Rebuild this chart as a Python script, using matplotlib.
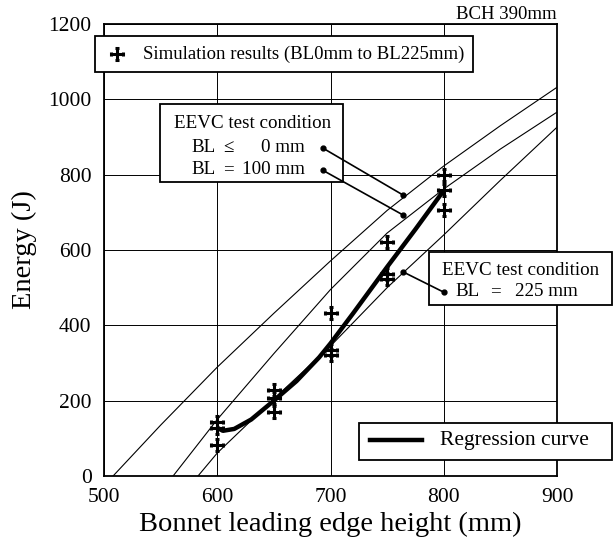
import matplotlib
matplotlib.use('Agg')
import matplotlib.pyplot as plt
from matplotlib.path import Path
from matplotlib.patches import Rectangle

plt.rcParams['font.family'] = ['Liberation Serif', 'DejaVu Serif']

# EEVC test condition curves (bonnet leading edge height mm, energy J)
bl0_x = [508, 550, 600, 650, 700, 750, 800, 850, 900]
bl0_y = [0, 135, 289, 432, 571, 705, 823, 930, 1032]
bl100_x = [561, 600, 650, 700, 750, 800, 850, 900]
bl100_y = [0, 150, 325, 495, 645, 762, 868, 966]
bl225_x = [583, 600, 650, 700, 750, 800, 850, 900]
bl225_y = [0, 61, 205, 345, 500, 640, 785, 926]

# regression curve
reg_x = [600, 605, 615, 630, 650, 670, 690, 700, 720, 750, 775, 800]
reg_y = [128, 120, 125, 150, 200, 252, 315, 352, 432, 555, 655, 758]

# simulation results
sim_x = [600, 600, 600, 650, 650, 650, 700, 700, 700, 750, 750, 750, 800, 800, 800]
sim_y = [144, 128, 82, 228, 206, 171, 432, 335, 322, 622, 535, 522, 798, 758, 706]

x_ticks = [500, 600, 700, 800, 900]
y_ticks = [0, 200, 400, 600, 800, 1000, 1200]

# croix a empattements pour les points de simulation
cross = Path([(-1, 0), (1, 0), (0, -1), (0, 1),
              (-1, -0.4), (-1, 0.4), (1, -0.4), (1, 0.4),
              (-0.4, 1), (0.4, 1), (-0.4, -1), (0.4, -1)],
             [Path.MOVETO, Path.LINETO] * 6)

W, H = 613, 543
fig = plt.figure(figsize=(W / 100, H / 100), dpi=100)
ax = fig.add_axes([104 / W, 1 - 476 / H, 453 / W, 452 / H])


def px_rect(x0, y0, x1, y1):
    # rectangle en pixels de la figure (origine en haut a gauche)
    r = Rectangle((x0 / W, 1 - y1 / H), (x1 - x0) / W, (y1 - y0) / H,
                  transform=fig.transFigure, facecolor='white',
                  edgecolor='black', linewidth=1.3, zorder=5, clip_on=False)
    ax.add_patch(r)


def px_text(x, y, s, **kw):
    ax.text(x / W, 1 - y / H, s, transform=fig.transFigure, zorder=6,
            clip_on=False, **kw)


ax.plot(bl0_x, bl0_y, color='black', lw=0.8)
ax.plot(bl100_x, bl100_y, color='black', lw=0.8)
ax.plot(bl225_x, bl225_y, color='black', lw=0.8)
ax.plot(reg_x, reg_y, color='black', lw=3.2, solid_capstyle='butt')
ax.plot(sim_x, sim_y, ls='none', marker=cross, ms=8, mew=2.2,
        color='black')

ax.set_xlim(500, 900)
ax.set_ylim(0, 1200)
ax.set_xticks(x_ticks)
ax.set_yticks(y_ticks)
ax.tick_params(length=0, labelsize=15.5, pad=9)
ax.grid(True, color='black', lw=0.7)
ax.set_axisbelow(True)
for s in ax.spines.values():
    s.set_linewidth(1.3)
ax.set_xlabel('Bonnet leading edge height (mm)', fontsize=20.5, labelpad=3)
ax.set_ylabel('Energy (J)', fontsize=20.5, labelpad=8)

ax.text(1.0, 1.003, 'BCH 390mm', transform=ax.transAxes, ha='right',
        va='bottom', fontsize=13.5)

# boite des resultats de simulation
px_rect(95, 36, 473, 72)
ax.plot([117 / W], [1 - 54 / H], marker=cross, ms=8, mew=2.2,
        color='black', ls='none', transform=fig.transFigure, zorder=6,
        clip_on=False)
px_text(143, 54, 'Simulation results (BL0mm to BL225mm)', fontsize=13.5,
        va='center')

# boite EEVC BL 0 / 100
px_rect(160, 104, 343, 182)
px_text(253, 123, 'EEVC test condition', fontsize=13.7, ha='center',
        va='center')
px_text(191, 147, 'BL', fontsize=13.7, va='center')
px_text(191, 170, 'BL', fontsize=13.7, va='center')
px_text(228, 147, '\u2264', fontsize=13.7, va='center', ha='center')
px_text(228, 170, '=', fontsize=13.7, va='center', ha='center')
px_text(305, 147, '0 mm', fontsize=13.7, va='center', ha='right')
px_text(305, 170, '100 mm', fontsize=13.7, va='center', ha='right')
for (x0, y0), (x1, y1) in [((693, 871), (764, 746)),
                           ((693, 812), (764, 693))]:
    ax.plot([x0, x1], [y0, y1], color='black', lw=1.2, marker='o', ms=3.5,
            clip_on=False, zorder=7)

# boite EEVC BL 225
px_rect(429, 252, 612, 305)
px_text(521, 270, 'EEVC test condition', fontsize=13.7, ha='center',
        va='center')
px_text(455, 292, 'BL', fontsize=13.7, va='center')
px_text(495, 292, '=', fontsize=13.7, va='center', ha='center')
px_text(578, 292, '225 mm', fontsize=13.7, va='center', ha='right')
ax.plot([800, 764], [488, 542], color='black', lw=1.2, marker='o', ms=3.5,
        clip_on=False, zorder=7)

# legende de la courbe de regression
px_rect(359, 423, 612, 460)
ax.plot([370 / W, 422 / W], [1 - 440 / H] * 2, color='black', lw=3.2,
        transform=fig.transFigure, zorder=6, clip_on=False)
px_text(440, 440, 'Regression curve', fontsize=15.5, va='center')

fig.savefig('out.png', dpi=100)
